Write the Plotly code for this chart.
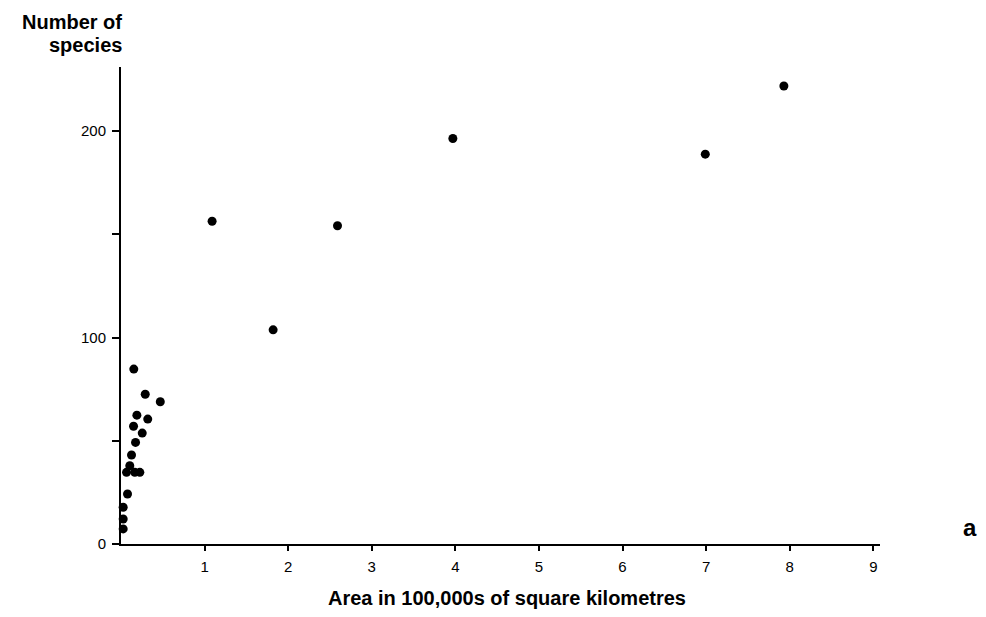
import plotly.graph_objects as go

# Area (100,000s km^2) and number of species
area = [3.97, 1.09, 2.59, 1.82, 7.93, 6.99,
        0.153, 0.29, 0.47, 0.19, 0.32, 0.15, 0.254, 0.174, 0.126,
        0.105, 0.066, 0.165, 0.225, 0.078, 0.026, 0.026, 0.026]
species = [196.4, 156.3, 154.1, 103.7, 221.8, 188.8,
           84.7, 72.5, 68.9, 62.4, 60.5, 57.0, 53.7, 49.2, 43.1,
           37.9, 34.7, 34.7, 34.7, 24.2, 17.8, 12.1, 7.3]

x_ticks = [1, 2, 3, 4, 5, 6, 7, 8, 9]
y_ticks = [0, 50, 100, 150, 200]
y_tick_labels = ["0", "", "100", "", "200"]

FONT = "Liberation Sans, Arial, sans-serif"
W, H = 986, 617
L, R, T, B = 121, 106, 67, 73
PW, PH = W - L - R, H - T - B


def px(x):
    return (x - L) / PW


def py(y):
    return (H - B - y) / PH


fig = go.Figure()
fig.add_trace(go.Scatter(
    x=area, y=species, mode="markers",
    marker=dict(color="black", size=9, line=dict(width=0)),
    showlegend=False, cliponaxis=False,
))

fig.update_layout(
    width=W, height=H,
    margin=dict(l=L, r=R, t=T, b=B),
    paper_bgcolor="white", plot_bgcolor="white",
    font=dict(family=FONT, color="black", size=15),
    xaxis=dict(
        range=[0, 9.08], tickvals=x_ticks, ticktext=[str(v) for v in x_ticks],
        showline=True, linecolor="black", linewidth=2,
        ticks="outside", ticklen=5, tickwidth=2, tickcolor="black",
        showgrid=False, zeroline=False, tickfont=dict(size=15),
        ticklabelstandoff=3,
    ),
    yaxis=dict(
        range=[0, 231], tickvals=y_ticks, ticktext=y_tick_labels,
        showline=True, linecolor="black", linewidth=2,
        ticks="outside", ticklen=7, tickwidth=2, tickcolor="black",
        showgrid=False, zeroline=False, tickfont=dict(size=15),
        ticklabelstandoff=3,
    ),
    annotations=[
        dict(text="<b>Number of</b>", x=px(124), y=py(22), xref="paper", yref="paper",
             showarrow=False, xanchor="right", yanchor="middle",
             font=dict(size=20, family=FONT)),
        dict(text="<b>species</b>", x=px(124), y=py(45), xref="paper", yref="paper",
             showarrow=False, xanchor="right", yanchor="middle",
             font=dict(size=20, family=FONT)),
        dict(text="<b>Area in 100,000s of square kilometres</b>", x=px(507), y=py(598),
             xref="paper", yref="paper", showarrow=False,
             xanchor="center", yanchor="middle",
             font=dict(size=20, family=FONT)),
        dict(text="<b>a</b>", x=px(970), y=py(527), xref="paper", yref="paper",
             showarrow=False, xanchor="center", yanchor="middle",
             font=dict(size=24, family=FONT)),
    ],
)

fig.write_html("out.html")
